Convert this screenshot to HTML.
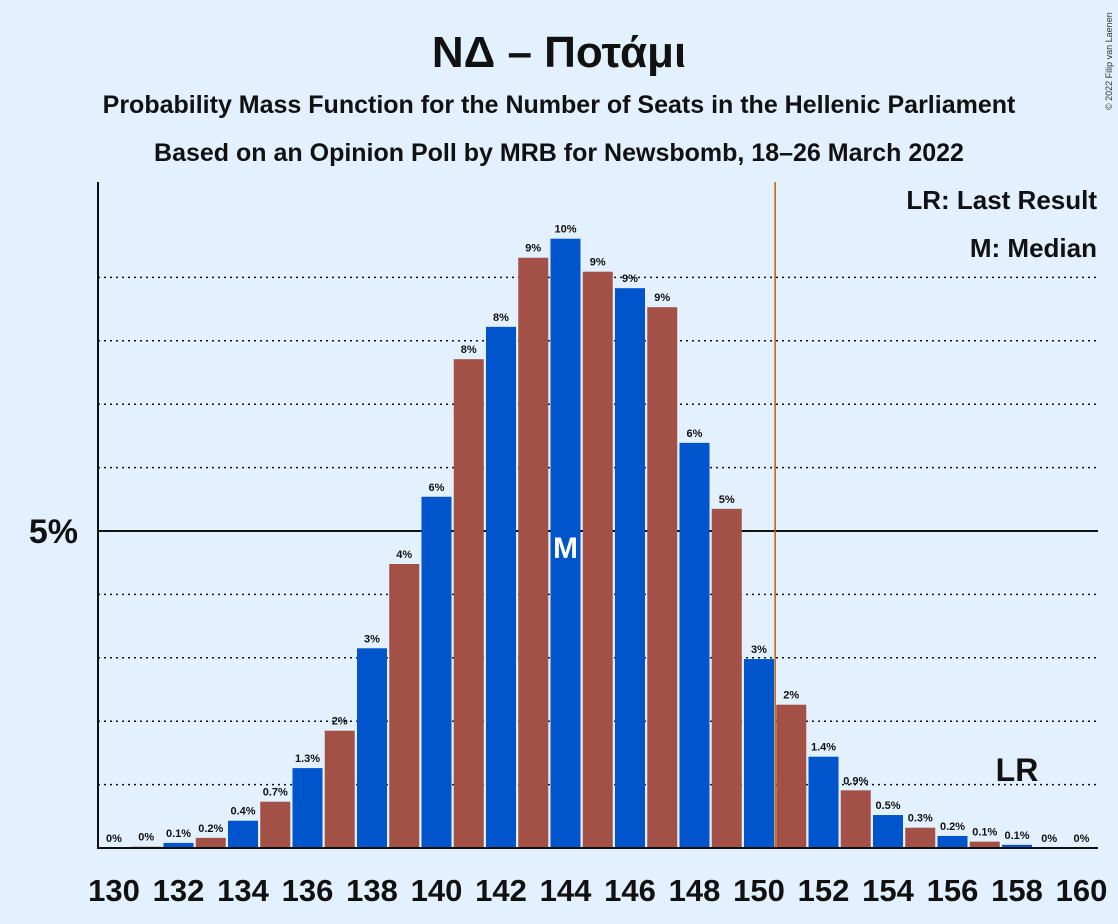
<!DOCTYPE html>
<html><head><meta charset="utf-8"><style>
body{margin:0;background:#e3f0fd;font-family:"Liberation Sans",sans-serif}
svg{display:block}
</style></head><body>
<svg width="1118" height="924" xmlns="http://www.w3.org/2000/svg">
<rect width="1118" height="924" fill="#e3f0fd"/>
<text x="559" y="67" text-anchor="middle" font-size="44" font-weight="bold" fill="#111">ΝΔ – Ποτάμι</text>
<text x="559" y="113" text-anchor="middle" font-size="25" font-weight="bold" fill="#111">Probability Mass Function for the Number of Seats in the Hellenic Parliament</text>
<text x="559" y="161" text-anchor="middle" font-size="25" font-weight="bold" fill="#111">Based on an Opinion Poll by MRB for Newsbomb, 18–26 March 2022</text>
<text x="1112" y="110" font-size="9" fill="#333" transform="rotate(-90 1112 110)">© 2022 Filip van Laenen</text>
<g id="grid"></g>
<g id="bars"></g>
<g id="xlabels"></g>
<line x1="98" y1="182" x2="98" y2="849" stroke="#111" stroke-width="2"/>
<line x1="98" y1="848" x2="1098" y2="848" stroke="#111" stroke-width="2"/>
<text x="78" y="543" text-anchor="end" font-size="34" font-weight="bold" fill="#111">5%</text>
<text x="1097" y="209" text-anchor="end" font-size="26" font-weight="bold" fill="#111">LR: Last Result</text>
<text x="1097" y="257" text-anchor="end" font-size="26" font-weight="bold" fill="#111">M: Median</text>
</svg>
<script>
const seats=[130,131,132,133,134,135,136,137,138,139,140,141,142,143,144,145,146,147,148,149,150,151,152,153,154,155,156,157,158,159,160];
const probs=[0,0.02,0.08,0.16,0.43,0.73,1.26,1.85,3.15,4.48,5.54,7.71,8.22,9.31,9.61,9.09,8.83,8.53,6.39,5.35,2.98,2.26,1.44,0.91,0.52,0.32,0.19,0.1,0.05,0,0];
const labels=["0%","0%","0.1%","0.2%","0.4%","0.7%","1.3%","2%","3%","4%","6%","8%","8%","9%","10%","9%","9%","9%","6%","5%","3%","2%","1.4%","0.9%","0.5%","0.3%","0.2%","0.1%","0.1%","0%","0%"];
const gridVals=[1,2,3,4,5,6,7,8,9];
const lastResult=150;
const median=144;
const NS="http://www.w3.org/2000/svg";
const x0=114,step=32.25,base=848,pxPer=63.4;
const xs=s=>x0+(s-130)*step;
const ys=v=>base-v*pxPer;
function mk(t,a,p){const e=document.createElementNS(NS,t);for(const k in a)e.setAttribute(k,a[k]);p.appendChild(e);return e;}
const grid=document.getElementById('grid'),bars=document.getElementById('bars'),xl=document.getElementById('xlabels');
gridVals.forEach(v=>{
 const l=mk('line',{x1:98,x2:1098,y1:ys(v),y2:ys(v),stroke:'#111','stroke-width':v===5?2:1.5,'stroke-dasharray':v===5?'none':'2,4'},grid);
 
 
});
seats.forEach((s,i)=>{
 const v=probs[i],cx=xs(s);
 const r=mk('rect',{x:cx-15,y:ys(v),width:30,height:v*pxPer,fill:s%2===0?'#0055cc':'#a35047'},bars);
 
 
 const t=mk('text',{x:cx,y:ys(v)-6,'text-anchor':'middle','font-size':11,'font-weight':'bold',fill:'#111'},bars);
 t.textContent=labels[i];
 
 
 if(s%2===0){
  const xt=mk('text',{x:cx,y:901,'text-anchor':'middle','font-size':31,'font-weight':'bold',fill:'#111'},xl);
  xt.textContent=s;
  
  
 }
});
const lrx=xs(lastResult)+step/2;
const lr=mk('line',{x1:lrx,x2:lrx,y1:182,y2:848,stroke:'#c06000','stroke-width':1.5},bars);


const m=mk('text',{x:xs(median),y:558,'text-anchor':'middle','font-size':30,'font-weight':'bold',fill:'#fff'},bars);
m.textContent='M';


const lrt=mk('text',{x:xs(158),y:781,'text-anchor':'middle','font-size':32,'font-weight':'bold',fill:'#111'},bars);
lrt.textContent='LR';


</script>
</body></html>
